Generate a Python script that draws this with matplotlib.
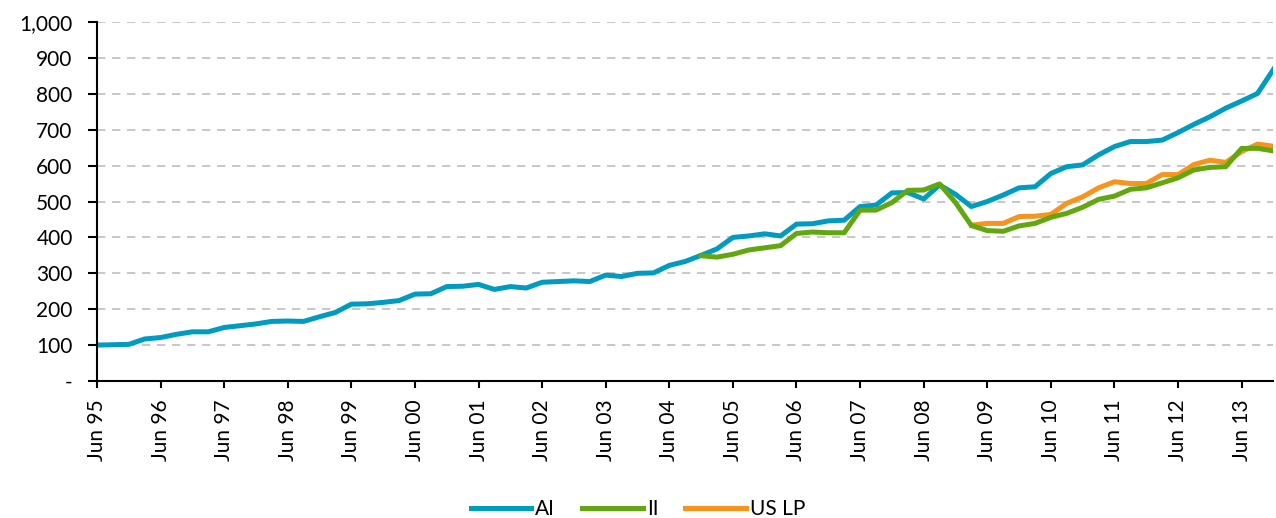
import numpy as np
import matplotlib.pyplot as plt
from matplotlib.ticker import FuncFormatter

plt.rcParams['font.family'] = ['Lato', 'DejaVu Sans']

# quarterly index, Jun 95 .. Dec 13
ai = [100, 101, 102, 117, 121, 130, 137, 137, 149, 154,
      159, 166, 167, 166, 179, 191, 214, 215, 219, 224,
      242, 243, 263, 264, 269, 255, 263, 259, 275, 277,
      279, 277, 295, 291, 300, 301, 322, 333, 350, 368,
      400, 404, 410, 404, 437, 438, 446, 448, 486, 490,
      524, 525, 507, 546, 520, 486, 500, 518, 538, 541,
      578, 597, 602, 630, 653, 667, 667, 671, 692, 715,
      736, 760, 780, 801, 868]
ii_start = 38
ii = [349, 345, 353, 365, 371, 377, 411, 415, 413, 413,
      476, 476, 497, 531, 532, 549, 497, 433, 419, 417,
      432, 439, 456, 467, 484, 506, 515, 534, 538, 552,
      566, 588, 595, 597, 648, 648, 641]
uslp_start = 55
uslp = [434, 439, 439, 458, 459, 464, 495, 513, 538, 555,
        550, 550, 575, 575, 603, 615, 609, 639, 660, 654]
years = ['95', '96', '97', '98', '99', '00', '01', '02', '03', '04',
         '05', '06', '07', '08', '09', '10', '11', '12', '13']

fig = plt.figure(figsize=(12.76, 5.18), dpi=100)
ax = fig.add_axes([0.076, 0.2645, 0.922, 0.693])

x_ai = np.arange(len(ai))
x_ii = np.arange(ii_start, ii_start + len(ii))
x_us = np.arange(uslp_start, uslp_start + len(uslp))

ax.plot(x_ai, ai, color='#009BC1', lw=3.6, label='AI', solid_joinstyle='round')
ax.plot(x_ii, ii, color='#62A70F', lw=3.6, label='II', solid_joinstyle='round', zorder=3)
ax.plot(x_us, uslp, color='#F7941D', lw=3.6, label='US LP', solid_joinstyle='round')

ax.set_xlim(0, len(ai) - 1)
ax.set_ylim(0, 1000)
ax.set_yticks(np.arange(0, 1001, 100))
ax.yaxis.set_major_formatter(FuncFormatter(lambda v, p: '-' if v == 0 else f'{int(v):,}'))
ax.set_xticks(np.arange(0, len(years) * 4, 4))
ax.set_xticklabels(['Jun ' + y for y in years], rotation=90)

ax.grid(axis='y', color='#BFBFBF', linestyle=(0, (5, 4)), lw=1.2)
ax.set_axisbelow(True)
for s in ['top', 'right']:
    ax.spines[s].set_visible(False)
for s in ['left', 'bottom']:
    ax.spines[s].set_linewidth(1.5)
ax.tick_params(axis='both', direction='out', width=1.5, labelsize=15)
ax.tick_params(axis='y', length=6.5, pad=11)
ax.tick_params(axis='x', length=5, pad=8)

fig.legend(loc='center', ncol=3, frameon=False, fontsize=15,
           bbox_to_anchor=(0.5, 9 / 518), handlelength=2.9, handletextpad=0.2,
           columnspacing=1.3)

fig.savefig('out.png', dpi=100)
